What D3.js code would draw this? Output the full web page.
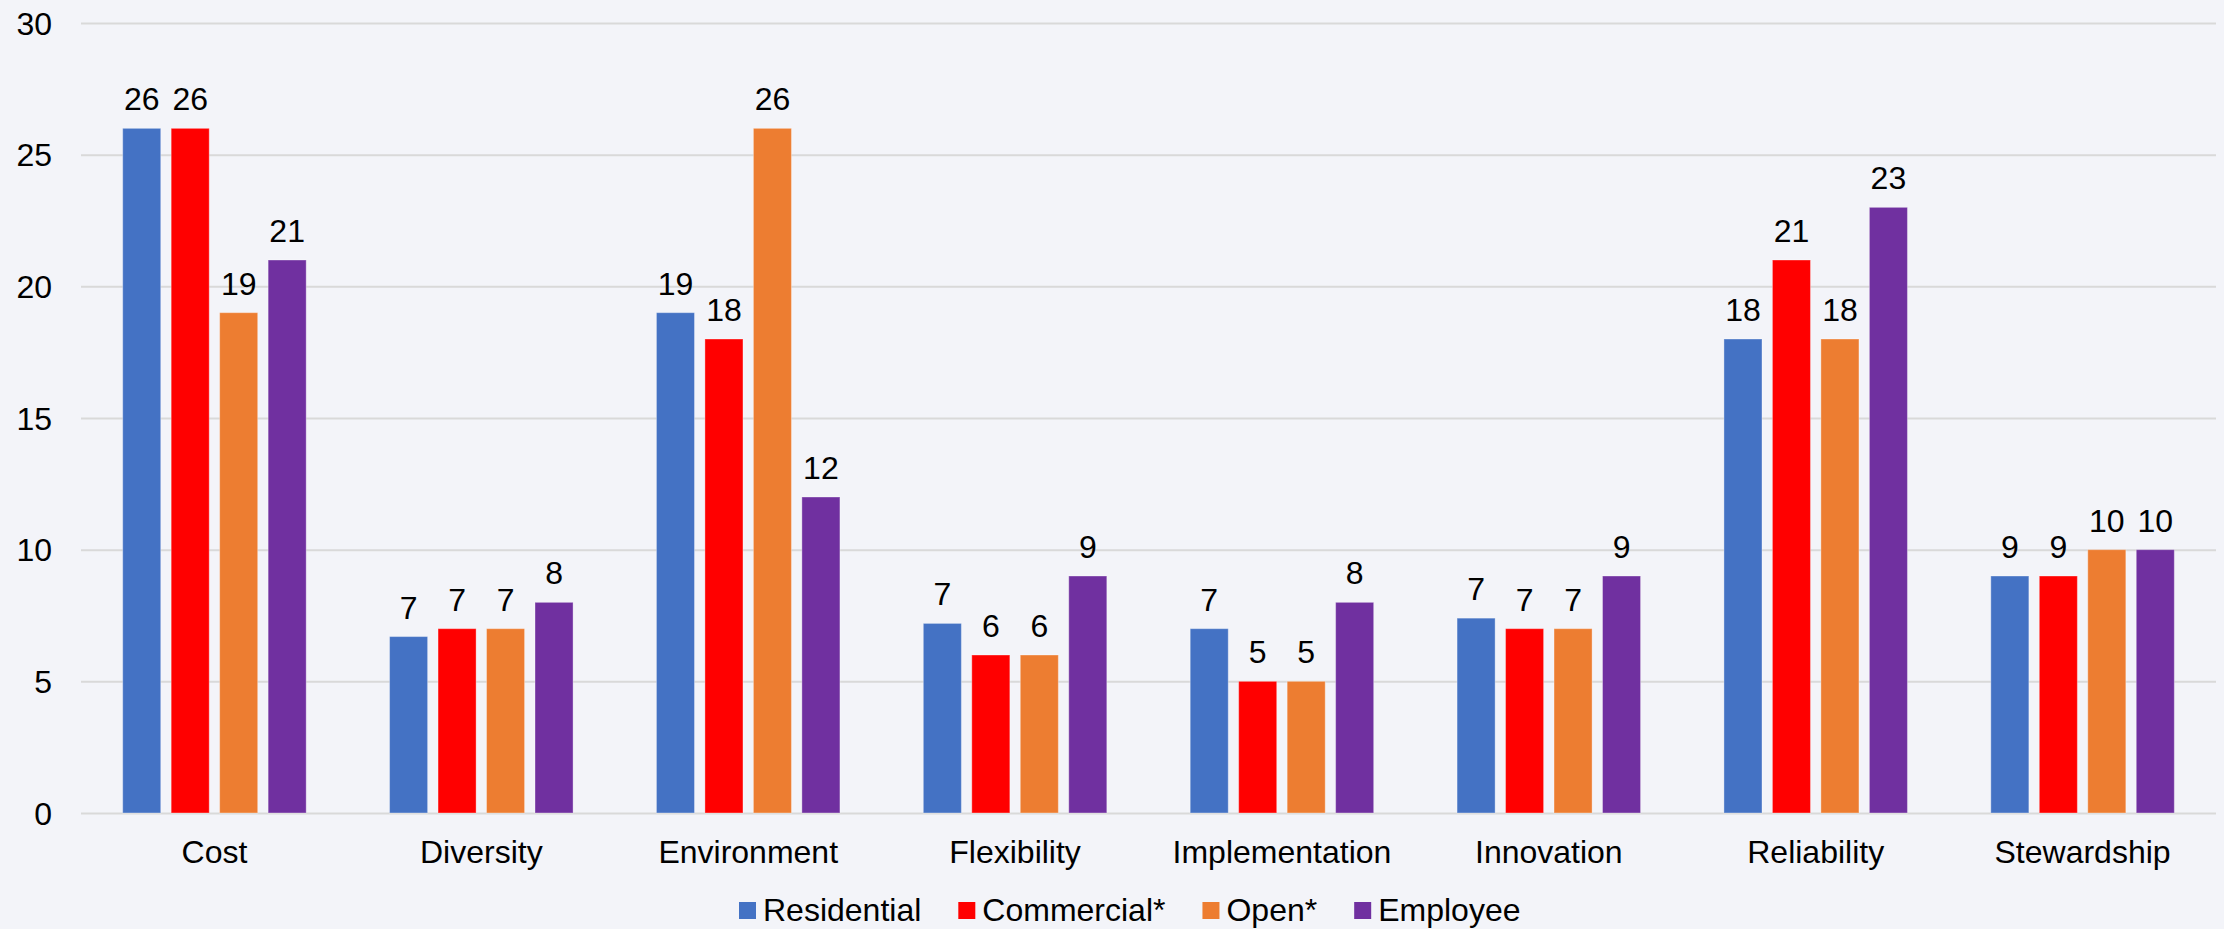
<!DOCTYPE html>
<html>
<head>
<meta charset="utf-8">
<script src="https://cdn.jsdelivr.net/npm/d3@7"></script>
<style>
  html, body { margin: 0; padding: 0; background: #f3f4f9; }
  svg { display: block; }
  text { font-family: "Liberation Sans", Arial, sans-serif; fill: #000; }
</style>
</head>
<body>
<svg id="chart" width="2224" height="929"></svg>
<script>
const categories = ["Cost", "Diversity", "Environment", "Flexibility", "Implementation", "Innovation", "Reliability", "Stewardship"];
const seriesNames = ["Residential", "Commercial*", "Open*", "Employee"];
const residential = [26, 6.7, 19, 7.2, 7, 7.4, 18, 9];
const commercial  = [26, 7, 18, 6, 5, 7, 21, 9];
const openSpace   = [19, 7, 26, 6, 5, 7, 18, 10];
const employee    = [21, 8, 12, 9, 8, 9, 23, 10];
const yTicks = [0, 5, 10, 15, 20, 25, 30];
const colors = ["#4472C4", "#FF0000", "#ED7D31", "#7030A0"];

const seriesValues = [residential, commercial, openSpace, employee];

(function () {
const svg = d3.select("#chart");
const pLeft = 81, pRight = 2216, pTop = 23, pBottom = 813;
const fs = 32;

const x0 = d3.scaleBand().domain(categories).range([pLeft, pRight]).paddingInner(0).paddingOuter(0);
const y = d3.scaleLinear().domain([0, 30]).range([pBottom, pTop]);

// gridlines + y tick labels
const yAxis = d3.axisLeft(y).tickValues(yTicks).tickSize(-(pRight - pLeft)).tickPadding(29).tickFormat(d3.format("d"));
const gy = svg.append("g").attr("transform", `translate(${pLeft},0)`).call(yAxis);
gy.select(".domain").remove();
gy.selectAll(".tick line").attr("stroke", "#d9d9d9").attr("stroke-width", 2);
gy.selectAll(".tick text").attr("font-size", fs).attr("font-family", "Liberation Sans, Arial, sans-serif").attr("fill", "#000").attr("dy", "0.35em");

// bars
const groupW = 183.5;
const x1 = d3.scaleBand().domain(seriesNames).range([0, groupW]).paddingInner(0.215).paddingOuter(0);

const data = [];
categories.forEach((c, i) => {
  seriesNames.forEach((s, j) => {
    data.push({cat: c, series: s, value: seriesValues[j][i], color: colors[j]});
  });
});

const off = (x0.bandwidth() - groupW) / 2;
svg.append("g").selectAll("rect").data(data).join("rect")
  .attr("x", d => x0(d.cat) + off + x1(d.series))
  .attr("y", d => y(d.value))
  .attr("width", x1.bandwidth())
  .attr("height", d => y(0) - y(d.value))
  .attr("fill", d => d.color)
  .attr("stroke", "rgba(255,255,255,0.35)")
  .attr("stroke-width", 1);

svg.append("g").selectAll("text").data(data).join("text")
  .attr("x", d => x0(d.cat) + off + x1(d.series) + x1.bandwidth() / 2)
  .attr("y", d => y(d.value) - 18)
  .attr("text-anchor", "middle")
  .attr("font-size", fs)
  .text(d => d3.format("d")(Math.round(d.value)));

// category labels
const xAxis = d3.axisBottom(x0).tickSize(0).tickPadding(0);
const gx = svg.append("g").attr("transform", `translate(0,${pBottom})`).call(xAxis);
gx.select(".domain").remove();
gx.selectAll(".tick text").attr("font-size", fs).attr("font-family", "Liberation Sans, Arial, sans-serif").attr("fill", "#000").attr("dy", 0).attr("y", 50);

// legend
const lg = svg.append("g");
let lx = 739;
seriesNames.forEach((s, j) => {
  lg.append("rect").attr("x", lx).attr("y", 902).attr("width", 17).attr("height", 17).attr("fill", colors[j]);
  const t = lg.append("text").attr("x", lx + 24).attr("y", 921).attr("font-size", fs).text(s);
  const w = t.node().getComputedTextLength();
  lx = lx + 24 + w + 37;
});
})();
</script>
</body>
</html>
